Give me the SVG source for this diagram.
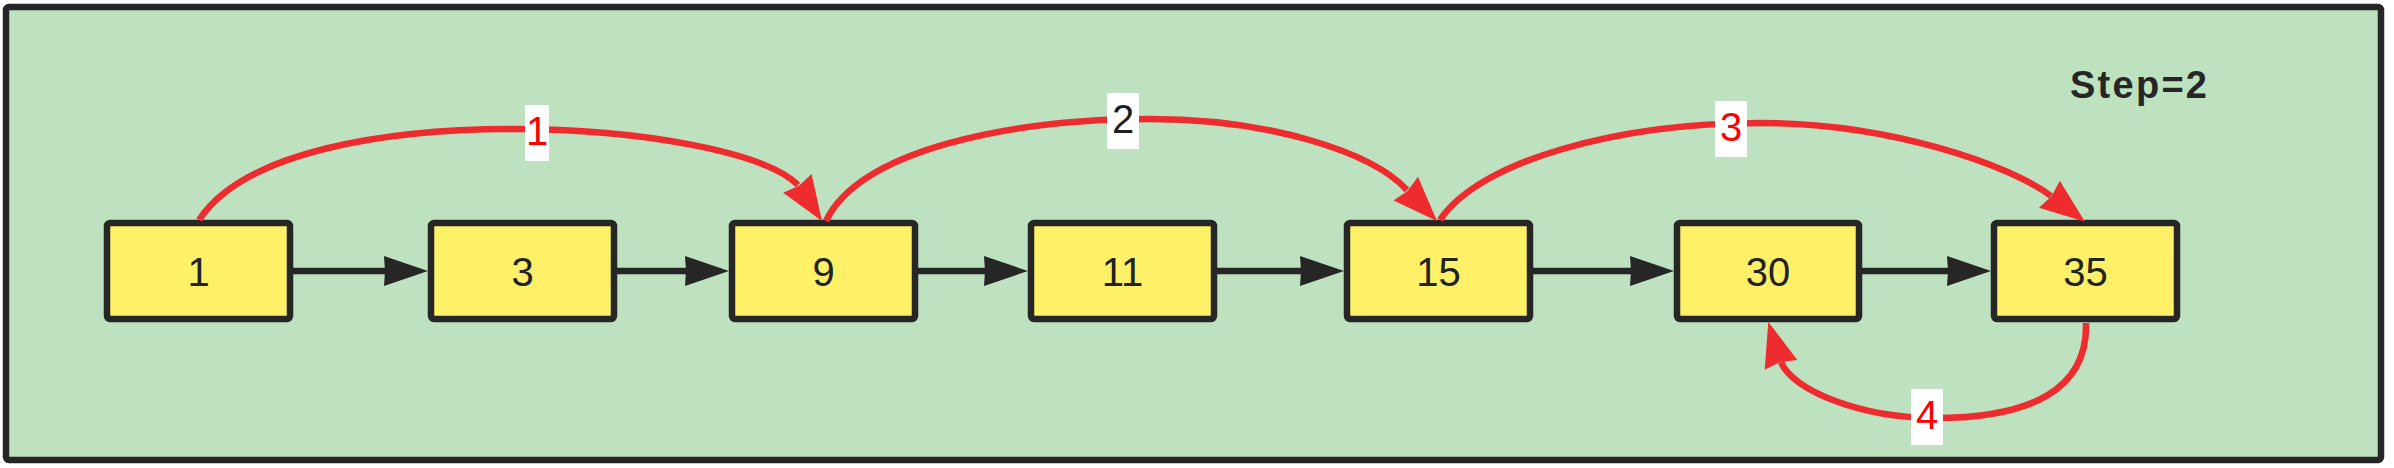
<svg xmlns="http://www.w3.org/2000/svg" xmlns:xlink="http://www.w3.org/1999/xlink" width="2394" height="468" viewBox="0 0 2394 468">
<style>
.bg{fill:#bee2bf;stroke:#262626;stroke-width:6.5}
.box rect{fill:#fef167;stroke:#262626;stroke-width:6.5}
.box text{font-family:"Liberation Sans",Arial,sans-serif;font-size:40px;fill:#222;text-anchor:middle}
.link{stroke:#262626;stroke-width:6.5;fill:none}
.jump{stroke:#ee2b2e;stroke-width:6.5;fill:none}
.head{fill:#ee2b2e}
.lbl rect{fill:#ffffff}
.lbl text{font-family:"Liberation Sans",Arial,sans-serif;font-size:40px;text-anchor:middle}
.red{fill:#ff0000}
.dark{fill:#1e1e1e}
.title{font-family:"Liberation Sans",Arial,sans-serif;font-size:38px;font-weight:bold;fill:#262626}
</style>
<defs>
<marker id="blk" markerUnits="userSpaceOnUse" markerWidth="50" markerHeight="34" viewBox="0 -17 50 34" refX="2" refY="0" orient="auto">
<path d="M0,-15 L44,0 L0,15 L1,0 Z" fill="#262626"/>
</marker>
<path id="redHead" d="M0,0 L-45,-17 L-42,0 L-45,17 Z"/>
</defs>
<rect class="bg" x="6" y="7" width="2375" height="453" rx="3"/>
<text class="title" x="2070" y="98" textLength="137" lengthAdjust="spacing">Step=2</text>
<g id="n1" class="box"><rect x="107" y="223" width="183" height="96" rx="3"/><text x="198.5" y="286">1</text></g>
<g id="n3" class="box"><rect x="431" y="223" width="183" height="96" rx="3"/><text x="522.5" y="286">3</text></g>
<g id="n9" class="box"><rect x="732" y="223" width="183" height="96" rx="3"/><text x="823.5" y="286">9</text></g>
<g id="n11" class="box"><rect x="1031" y="223" width="183" height="96" rx="3"/><text x="1122.5" y="286">11</text></g>
<g id="n15" class="box"><rect x="1347" y="223" width="183" height="96" rx="3"/><text x="1438.5" y="286">15</text></g>
<g id="n30" class="box"><rect x="1677" y="223" width="182" height="96" rx="3"/><text x="1768" y="286">30</text></g>
<g id="n35" class="box"><rect x="1994" y="223" width="183" height="96" rx="3"/><text x="2085.5" y="286">35</text></g>
<g id="connectors">
<path class="link" marker-end="url(#blk)" d="M293,271 H386"/>
<path class="link" marker-end="url(#blk)" d="M617,271 H687"/>
<path class="link" marker-end="url(#blk)" d="M918,271 H986"/>
<path class="link" marker-end="url(#blk)" d="M1217,271 H1302"/>
<path class="link" marker-end="url(#blk)" d="M1533,271 H1632"/>
<path class="link" marker-end="url(#blk)" d="M1862,271 H1949"/>
<path class="jump" d="M199,220 C245,150 390,129 513,129 C640,129 765,152 798,185"/>
<use href="#redHead" class="head" transform="translate(822,221) rotate(56.8)"/>
<path class="jump" d="M826,221 C860,150 1010,119 1150,119 C1270,119 1372,152 1407,190"/>
<use href="#redHead" class="head" transform="translate(1437,221) rotate(46)"/>
<path class="jump" d="M1440,220 C1480,160 1620,123 1760,123 C1890,123 2010,165 2051,196"/>
<use href="#redHead" class="head" transform="translate(2085,221.7) rotate(37.7)"/>
<path class="jump" d="M2086,323 C2088,390 2030,418 1935,418 C1860,418 1792,390 1781,362"/>
<use href="#redHead" class="head" transform="translate(1768.3,321.7) rotate(-106.4)"/>
<g class="lbl"><rect x="525" y="105" width="24" height="56"/><text class="red" x="537" y="145">1</text></g>
<g class="lbl"><rect x="1107" y="93" width="32" height="56"/><text class="dark" x="1123" y="133">2</text></g>
<g class="lbl"><rect x="1715" y="101" width="32" height="56"/><text class="red" x="1731" y="140.5">3</text></g>
<g class="lbl"><rect x="1911" y="389" width="32" height="56"/><text class="red" x="1927" y="429">4</text></g>
</g>
</svg>
